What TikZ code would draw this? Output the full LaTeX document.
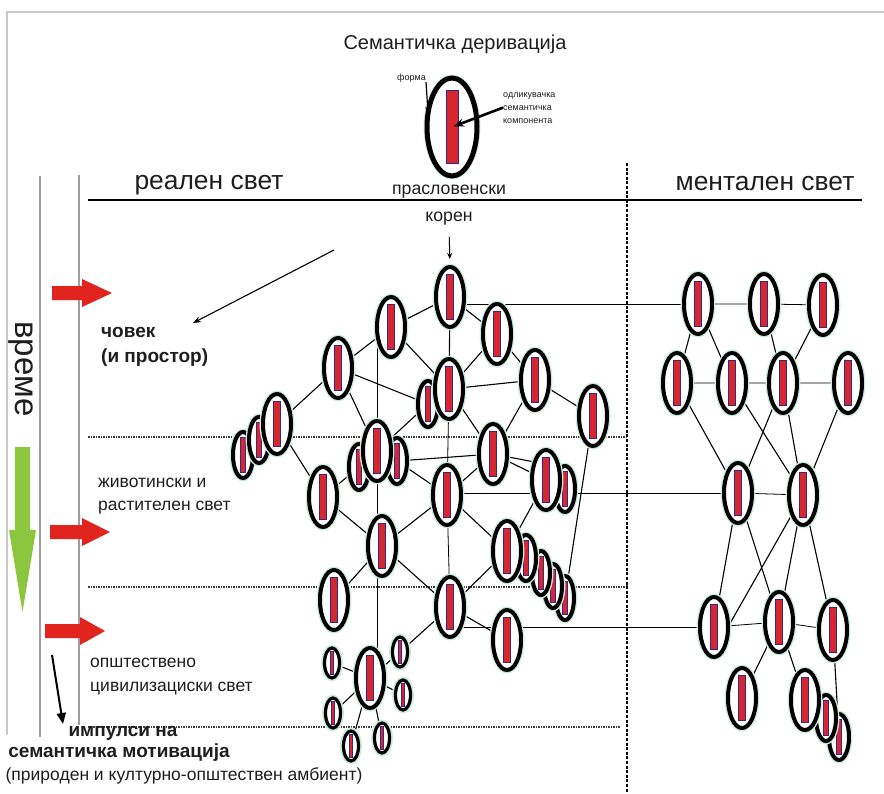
\documentclass[tikz,border=0pt]{standalone}
\usepackage{fontspec}
\setmainfont{Liberation Sans}
\usetikzlibrary{shapes.geometric,arrows.meta,calc}
\pgfdeclarelayer{bg}
\pgfsetlayers{bg,main}
\definecolor{cred}{RGB}{214,38,48}
\definecolor{cnavy}{RGB}{55,40,125}
\definecolor{glow}{RGB}{205,236,220}
\definecolor{arrred}{RGB}{226,36,30}
\definecolor{arrgreen}{RGB}{140,198,63}
\definecolor{framegray}{RGB}{200,200,200}
\definecolor{txt}{RGB}{30,30,30}
\tikzset{
  cell/.style 2 args={ellipse, draw=black, line width=4pt, fill=white,
    minimum width=#1, minimum height=#2, inner sep=0pt, outer sep=0pt,
    preaction={draw=glow, line width=6.8pt},
    path picture={\filldraw[draw=cnavy, fill=cred, line width=1pt]
      ([xshift=-0.12*#1, yshift=-0.37*#2]path picture bounding box.center) rectangle
      ([xshift=0.12*#1, yshift=0.37*#2]path picture bounding box.center);}},
  big/.style={cell={28pt}{60pt}},
  mid/.style={cell={20pt}{46pt}},
  slim/.style={cell={18pt}{44pt}},
  tiny/.style={cell={15pt}{30pt}, line width=3.2pt},
  link/.style={line width=1.1pt, black},
  flat/.style={line width=0.8pt, black},
  sep/.style={line width=1.2pt, black!75, dash pattern=on 1.6pt off 0.9pt},
  lbl/.style={font=\fontsize{17.5}{21}\selectfont, text=txt, inner sep=0pt, anchor=base west},
  blbl/.style={font=\fontsize{19}{22}\selectfont\bfseries, text=txt, inner sep=0pt},
  tlbl/.style={font=\fontsize{9}{11}\selectfont, text=txt, inner sep=0pt, anchor=base west},
}
\begin{document}
\begin{tikzpicture}[x=1pt, y=-1pt]
\useasboundingbox (0,0) rectangle (884,793);

% frame and guide lines
\draw[framegray, line width=1.2pt] (7,735) -- (7,12) -- (884,12);
\draw[gray!75, line width=1.3pt] (40,176) -- (40,737);
\draw[gray!75, line width=1.3pt] (79,175) -- (79,725);
\draw[line width=1.5pt] (88,200) -- (862,200);
\draw[line width=2.2pt, dash pattern=on 3pt off 1.6pt] (627,163) -- (627,793);

% titles
\node[font=\fontsize{20}{24}\selectfont, text=txt, anchor=base, inner sep=0pt] (title) at (455,49) {Семантичка деривација};
\node[font=\fontsize{26.4}{30}\selectfont, text=txt, anchor=base, inner sep=0pt] (real) at (209,189) {реален свет};
\node[font=\fontsize{26.4}{30}\selectfont, text=txt, anchor=base, inner sep=0pt] (mental) at (765,190) {ментален свет};
\node[font=\fontsize{17.7}{21}\selectfont, text=txt, anchor=base, inner sep=0pt] (praslov) at (449,194) {прасловенски};
\node[font=\fontsize{17.7}{21}\selectfont, text=txt, anchor=base, inner sep=0pt] (koren) at (449,221) {корен};

% legend
\node[cell={50pt}{98pt}, line width=5pt] (leg) at (452,127) {};
\node[tlbl] (forma) at (397,80) {форма};
\node[tlbl] (k1) at (503,97) {одликувачка};
\node[tlbl] (k2) at (503,110) {семантичка};
\node[tlbl] (k3) at (503,123) {компонента};
\draw[-{Stealth[length=6pt,width=5pt]}, line width=1.2pt] (forma.south east) -- (leg.150);
\draw[-{Stealth[length=10pt,width=8pt]}, line width=2.6pt, shorten >=2pt] (k2.west) -- (leg.center);

% left side
\node[font=\fontsize{33}{36}\selectfont, text=txt, rotate=-90, inner sep=0pt] (vreme) at (21,369) {време};
\fill[arrgreen] (15,447) -- (30,447) -- (30,530) -- (36,530) -- (22.5,612) -- (9,530) -- (15,530) -- cycle;
\fill[arrred] (52,286) -- (82,286) -- (82,279) -- (112,293) -- (82,307) -- (82,300) -- (52,300) -- cycle;
\fill[arrred] (50,525) -- (82,525) -- (82,518) -- (110,532) -- (82,546) -- (82,539) -- (50,539) -- cycle;
\fill[arrred] (45,624) -- (80,624) -- (80,617) -- (105,631) -- (80,645) -- (80,638) -- (45,638) -- cycle;

\node[blbl, anchor=base west] (covek) at (101,337) {човек};
\node[blbl, anchor=base west] (prostor) at (101,362) {(и простор)};
\node[lbl] (ziv1) at (98,487) {животински и};
\node[lbl] (ziv2) at (98,510) {растителен свет};
\node[lbl] (op1) at (90,667) {општествено};
\node[lbl] (op2) at (90,691) {цивилизациски свет};
\node[blbl, anchor=base] (imp1) at (123,736) {импулси на};
\node[blbl, anchor=base] (imp2) at (119,757) {семантичка мотивација};
\node[lbl, anchor=base] (amb) at (184,780) {(природен и културно-општествен амбиент)};

\coordinate (p1) at (334,250);
\coordinate (p2) at (193,323);
\coordinate (q1) at (52,655);
\coordinate (q2) at (63,724);
\draw[-{Stealth[length=8pt,width=6pt]}, line width=1.1pt] (p1) -- (p2);
\draw[-{Triangle[length=11pt,width=9pt]}, line width=2pt] (q1) -- (q2);

% ---------- real world nodes ----------
\node[big] (A) at (450,297) {};
\node[big] (B) at (391,327) {};
\node[big] (C) at (497,334) {};
\node[big] (D) at (338,368) {};
\node[mid] (F) at (428,404) {};
\node[big] (E) at (449,389) {};
\node[big] (G) at (535,380) {};
\node[big] (H) at (593,416) {};
\node[mid] (K) at (243,455) {};
\node[mid] (J) at (259,440) {};
\node[big] (I) at (277,424) {};
\node[mid] (M) at (359,467) {};
\node[mid] (N) at (397,461) {};
\node[big] (L) at (377,451) {};
\node[big] (O) at (493,454) {};
\node[mid] (Q) at (565,489) {};
\node[big] (P) at (546,480) {};
\node[big] (R) at (323,497) {};
\node[big] (S) at (447,495) {};
\node[big] (T) at (382,546) {};
\node[slim] (c4) at (565,598) {};
\node[slim] (c3) at (553,586) {};
\node[slim] (c2) at (541,573) {};
\node[mid] (c1) at (526,558) {};
\node[big] (U) at (507,551) {};
\node[big] (V) at (334,600) {};
\node[big] (W) at (450,607) {};
\node[big] (X) at (507,640) {};
\node[big] (Y) at (370,678) {};
\node[tiny] (s1) at (332,663) {};
\node[tiny] (s2) at (400,652) {};
\node[tiny] (s3) at (403,695) {};
\node[tiny] (s4) at (333,713) {};
\node[tiny] (s5) at (351,746) {};
\node[tiny] (s6) at (382,738) {};

% ---------- mental world nodes ----------
\node[big] (m11) at (698,304) {};
\node[big] (m12) at (764,304) {};
\node[big] (m13) at (823,305) {};
\node[big] (m21) at (677,383) {};
\node[big] (m22) at (732,383) {};
\node[big] (m23) at (783,383) {};
\node[big] (m24) at (848,383) {};
\node[big] (m31) at (738,493) {};
\node[big] (m32) at (803,495) {};
\node[big] (m41) at (714,627) {};
\node[big] (m42) at (779,622) {};
\node[big] (m43) at (833,630) {};
\node[big] (m51) at (742,698) {};
\node[mid] (m54) at (839,737) {};
\node[mid] (m53) at (826,718) {};
\node[big] (m52) at (805,700) {};

% ---------- connectors (behind) ----------
\begin{pgfonlayer}{bg}
\draw[sep] (88,437) -- (627,437);
\draw[sep] (88,587) -- (627,587) -- (627,583);
\draw[sep] (88,727) -- (620,727);
\draw[-{Stealth[length=6pt,width=5pt]}, line width=1pt, shorten <=12pt, shorten >=8pt] (koren.south) -- (A.north);
\draw[link] (A) -- (B) (A) -- (C) (A) -- (E) (B) -- (D) (B) -- (E) (C) -- (E) (C) -- (G)
  (D) -- (I) (D) -- (F) (E) -- (G) (D) -- (L) (F) -- (L) (E) -- (O)
  (G) -- (O) (G) -- (H) (H) -- (c4) (I) -- (R) (N) -- (O) (O) -- (P.122) (O) -- (Q)
  (N) -- (S) (S) -- (O) (R) -- (M) (R) -- (T) (T) -- (S) (S) -- (U) (U) -- (P)
  (V) -- (T) (T) -- (W) (W) -- (U) (W) -- (X) (W) -- (s2)
  (Y) -- (s1) (Y) -- (s2) (Y) -- (s3) (Y) -- (s4) (Y) -- (s5) (Y) -- (s6);
\draw[flat] (E) -- (S) (S) -- (W);
\draw[flat] (B.west) -- (B.west |- Y.center);
\draw[flat] (m11) -- (m11 -| A);
\draw[flat] (m31) -- (m31 -| S);
\draw[flat] (m41) -- (m41 -| W);
\draw[link] (m11) -- (m21) (m11) -- (m22) (m12) -- (m23) (m13) -- (m23)
  (m21) -- (m31) (m22) -- (m32) (m23) -- (m31) (m23) -- (m32) (m24) -- (m32)
  (m31) -- (m41) (m31) -- (m42) (m32) -- (m41.east) (m32) -- (m42) (m32) -- (m43)
  (m42) -- (m51) (m42) -- (m52) (m43) -- (m54);
\draw[flat] (m11) -- (m12) (m12) -- (m13) (m21) -- (m22) (m22) -- (m23) (m23) -- (m24)
  (m31) -- (m32) (m41) -- (m42) (m42) -- (m43);
\end{pgfonlayer}
\end{tikzpicture}
\end{document}
